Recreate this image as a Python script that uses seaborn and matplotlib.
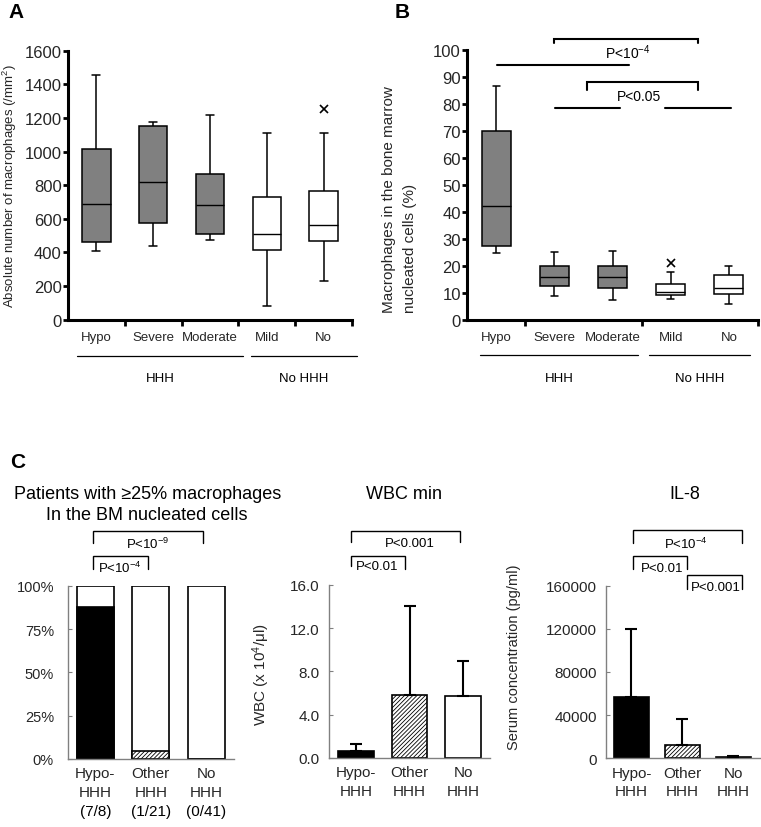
import numpy as np
import pandas as pd
import matplotlib
matplotlib.use("Agg")
import matplotlib.pyplot as plt
import matplotlib.transforms as mtransforms
from matplotlib.ticker import PercentFormatter, FormatStrFormatter
import seaborn as sns

# ---------------- data ----------------
severity = ["Hypo", "Severe", "Moderate", "Mild", "No"]
box_fill = ["#808080", "#808080", "#808080", "white", "white"]
group_names = ["HHH", "No HHH"]

# Panel A: absolute number of macrophages (/mm2) -- whisker low, Q1, median, Q3, whisker high
a_low = [407, 437, 473, 80, 232]
a_q1 = [465, 578, 511, 415, 469]
a_med = [691, 821, 680, 511, 564]
a_q3 = [1013, 1151, 864, 727, 765]
a_high = [1455, 1177, 1216, 1109, 1109]
a_out_cat = ["No"]
a_out_val = [1255]

# Panel B: macrophages in BM nucleated cells (%)
b_low = [24.7, 8.6, 7.3, 7.7, 6.0]
b_q1 = [27.2, 12.6, 11.6, 9.1, 9.5]
b_med = [42.2, 15.7, 16.0, 10.4, 11.9]
b_q3 = [70.0, 20.0, 19.8, 13.2, 16.5]
b_high = [86.4, 24.9, 25.3, 17.5, 20.0]
b_out_cat = ["Mild"]
b_out_val = [20.9]

# Panel C
groups = ["Hypo-\nHHH", "Other\nHHH", "No\nHHH"]
bar_colors = ["black", "white", "white"]
n_pos = [7, 1, 0]
n_total = [8, 21, 41]
total_pct = [100.0, 100.0, 100.0]
wbc_mean = [0.65, 5.78, 5.72]
wbc_sd = [0.67, 8.25, 3.26]
il8_mean = [57000, 12300, 900]
il8_sd = [63000, 23700, 900]

# ---------------- style ----------------
sns.set_style("ticks")
plt.rcParams["font.family"] = ["Liberation Sans", "DejaVu Sans"]
plt.rcParams["mathtext.fontset"] = "custom"
plt.rcParams["mathtext.rm"] = "Liberation Sans"
plt.rcParams["mathtext.it"] = "Liberation Sans:italic"
plt.rcParams["mathtext.bf"] = "Liberation Sans:bold"
plt.rcParams["mathtext.default"] = "regular"
plt.rcParams["hatch.linewidth"] = 0.6
plt.rcParams["text.color"] = "black"

W, H = 761, 828
fig = plt.figure(figsize=(W / 100, H / 100), dpi=100)
fig.patch.set_facecolor("white")


def add_ax(l, t, r, b):
    return fig.add_axes([l / W, 1 - b / H, (r - l) / W, (b - t) / H])


def box_panel(ax, stats, ylim, yticks, capw, minor_ticks, out_cat, out_val):
    low, q1, med, q3, high = stats
    df = pd.DataFrame({
        "cat": np.repeat(severity, 5),
        "val": np.column_stack([low, q1, med, q3, high]).ravel(),
    })
    sns.boxplot(data=df, x="cat", y="val", hue="cat", order=severity, hue_order=severity,
                palette=dict(zip(severity, box_fill)), saturation=1, legend=False,
                dodge=False, width=0.5, whis=(0, 100), linecolor="black", linewidth=1.1,
                fliersize=0, capwidths=capw,
                medianprops={"linewidth": 1.0, "color": "black"}, ax=ax)
    ax.plot([severity.index(c) for c in out_cat], out_val, ls="none", marker="x",
            color="black", ms=6, mew=1.2)
    ax.set_xlim(-0.5, 4.5)
    ax.set_ylim(*ylim)
    ax.set_yticks(yticks)
    ax.set_xlabel("")
    ax.set_xticks(range(5))
    ax.set_xticklabels(severity, fontsize=9.5)
    ax.set_xticks(minor_ticks, minor=True)
    ax.tick_params(axis="x", which="major", length=0, pad=8)
    ax.tick_params(axis="x", which="minor", length=4, width=2, direction="out",
                   color="black", bottom=True)
    ax.tick_params(axis="y", length=3.5, width=2, pad=1, labelsize=12,
                   direction="out", color="black", left=True)
    for s in ("top", "right"):
        ax.spines[s].set_visible(False)
    for s in ("left", "bottom"):
        ax.spines[s].set_linewidth(2.2)
        ax.spines[s].set_color("black")


def groups_under(ax, spans, centers, yline, ytext):
    tr = mtransforms.blended_transform_factory(ax.transData, ax.transAxes)
    for (x0, x1), xc, nm in zip(spans, centers, group_names):
        ax.plot([x0, x1], [yline, yline], transform=tr, color="black", lw=0.9, clip_on=False)
        ax.text(xc, ytext, nm, transform=tr, ha="center", va="center", fontsize=9.5)


def bracket(ax, x0, x1, ytop, yl, yr, label, tx, ty, fs, lw=1.0):
    ax.plot([x0, x0, x1, x1], [yl, ytop, ytop, yr], color="black", lw=lw,
            clip_on=False, solid_joinstyle="miter")
    ax.text(tx, ty, label, ha="center", va="center", fontsize=fs)


def style_c(ax, ylim, yticks, xlim, pad):
    ax.set_xlim(*xlim)
    ax.set_ylim(*ylim)
    ax.set_yticks(yticks)
    ax.set_xlabel("")
    ax.tick_params(axis="y", direction="in", length=3, width=0.8, color="#808080",
                   pad=pad, labelsize=11, left=True)
    ax.tick_params(axis="x", length=0, pad=5.4, labelsize=11)
    for lbl in ax.get_xticklabels():
        lbl.set_linespacing(1.4)
    for s in ("top", "right"):
        ax.spines[s].set_visible(False)
    for s in ("left", "bottom"):
        ax.spines[s].set_linewidth(1.0)
        ax.spines[s].set_color("#808080")


def hatch_other(ax, patches):
    for p in patches:
        if abs(p.get_x() + p.get_width() / 2 - 1) < 0.05:
            p.set_hatch("////////")


# ---------------- Panel A ----------------
ax_a = add_ax(68, 51.7, 352, 320.7)
box_panel(ax_a, (a_low, a_q1, a_med, a_q3, a_high), (0, 1600), range(0, 1601, 200),
          0.14, [0.5, 1.5, 2.5, 3.5, 4.5], a_out_cat, a_out_val)
ax_a.set_ylabel("Absolute number of macrophages (/mm$^{2}$)", fontsize=9.5)
ax_a.yaxis.set_label_coords(-0.172, 0.5)
groups_under(ax_a, [(-0.34, 2.58), (2.72, 4.59)], [1.12, 3.655], -0.135, -0.217)

# ---------------- Panel B ----------------
ax_b = add_ax(467, 50.7, 758, 320.7)
box_panel(ax_b, (b_low, b_q1, b_med, b_q3, b_high), (0, 100), range(0, 101, 10),
          0.12, [0.5, 2.5, 4.5], b_out_cat, b_out_val)
ax_b.set_ylabel("Macrophages in the bone marrow\nnucleated cells (%)", fontsize=11,
                multialignment="left", linespacing=1.6)
ax_b.yaxis.set_label_coords(-0.172, 0.447)
groups_under(ax_b, [(-0.27, 2.44), (2.63, 4.36)], [1.085, 3.5], -0.131, -0.216)
bracket(ax_b, 0.995, 3.47, 103.96, 102.4, 102.4, r"P<10$^{-4}$", 2.27, 99.4, 10, lw=1.5)
bracket(ax_b, 1.567, 3.47, 88.1, 85.1, 85.1, "P<0.05", 2.46, 82.7, 10, lw=1.5)
ax_b.plot([0.02, 2.29], [94.4, 94.4], color="black", lw=1.5, clip_on=False)
ax_b.plot([1.007, 2.13], [78.3, 78.3], color="black", lw=1.5, clip_on=False)
ax_b.plot([2.91, 4.03], [78.3, 78.3], color="black", lw=1.5, clip_on=False)

# ---------------- Panel C1 ----------------
ax_c1 = add_ax(67.7, 586.7, 234, 760)
sns.barplot(x=groups, y=total_pct, color="white", edgecolor="black", linewidth=1.2,
            width=0.67, errorbar=None, saturation=1, ax=ax_c1)
n_bg = len(ax_c1.patches)
pct = [100.0 * p / t for p, t in zip(n_pos, n_total)]
sns.barplot(x=groups, y=pct, hue=groups, palette=bar_colors, edgecolor="black",
            linewidth=1.2, width=0.67, errorbar=None, saturation=1, legend=False, ax=ax_c1)
hatch_other(ax_c1, ax_c1.patches[n_bg:])
style_c(ax_c1, (0, 100), [0, 25, 50, 75, 100], (-0.5, 2.5), 9.9)
ax_c1.yaxis.set_major_formatter(PercentFormatter(xmax=100, decimals=0))
ax_c1.tick_params(axis="y", labelsize=10.5)
tr1 = mtransforms.blended_transform_factory(ax_c1.transData, ax_c1.transAxes)
for i, (p, t) in enumerate(zip(n_pos, n_total)):
    ax_c1.text(i, -0.30, f"({p}/{t})", transform=tr1, ha="center", va="center", fontsize=11)
bracket(ax_c1, -0.045, 1.944, 131.4, 124.6, 124.6, r"P<10$^{-9}$", 0.95, 124.6, 9.5)
bracket(ax_c1, -0.045, 0.94, 117.0, 109.6, 109.6, r"P<10$^{-4}$", 0.45, 110.8, 9.5)

# ---------------- Panel C2 ----------------
ax_c2 = add_ax(329, 585.7, 490, 759)
sns.barplot(x=groups, y=wbc_mean, hue=groups, palette=bar_colors, edgecolor="black",
            linewidth=1.2, width=0.67, errorbar=None, saturation=1, legend=False, ax=ax_c2)
hatch_other(ax_c2, ax_c2.patches)
ax_c2.errorbar(range(len(groups)), wbc_mean, yerr=[np.zeros(len(groups)), wbc_sd],
               fmt="none", ecolor="black", elinewidth=1.5, capsize=4, capthick=1.5, zorder=5)
style_c(ax_c2, (0, 16), [0, 4, 8, 12, 16], (-0.5, 2.5), 6.5)
ax_c2.yaxis.set_major_formatter(FormatStrFormatter("%.1f"))
ax_c2.set_ylabel("WBC (x 10$^{4}$/μl)", fontsize=11)
ax_c2.yaxis.set_label_coords(-0.354, 0.485)
bracket(ax_c2, -0.099, 1.937, 20.93, 19.94, 19.94, "P<0.001", 1.0, 19.85, 9.5)
bracket(ax_c2, -0.099, 0.912, 18.62, 17.76, 17.45, "P<0.01", 0.40, 17.76, 9.5)

# ---------------- Panel C3 ----------------
ax_c3 = add_ax(606, 586.7, 761, 759.3)
sns.barplot(x=groups, y=il8_mean, hue=groups, palette=bar_colors, edgecolor="black",
            linewidth=1.2, width=0.67, errorbar=None, saturation=1, legend=False, ax=ax_c3)
hatch_other(ax_c3, ax_c3.patches)
ax_c3.errorbar(range(len(groups)), il8_mean, yerr=[np.zeros(len(groups)), il8_sd],
               fmt="none", ecolor="black", elinewidth=1.5, capsize=4, capthick=1.5, zorder=5)
style_c(ax_c3, (0, 160000), [0, 40000, 80000, 120000, 160000], (-0.5, 2.54), 6.3)
ax_c3.yaxis.set_major_formatter(FormatStrFormatter("%d"))
ax_c3.set_ylabel("Serum concentration (pg/ml)", fontsize=10.5)
ax_c3.yaxis.set_label_coords(-0.549, 0.593)
bracket(ax_c3, 0.026, 2.167, 211600, 199600, 199600, r"P<10$^{-4}$", 1.075, 199600, 9.5)
bracket(ax_c3, 0.026, 1.094, 187250, 175500, 175500, "P<0.01", 0.60, 176400, 9.5)
bracket(ax_c3, 1.094, 2.167, 169900, 157000, 157000, "P<0.001", 1.646, 158800, 9.5)

# ---------------- titles and panel letters ----------------
fig.text(148 / W, 1 - 495 / H, "Patients with ≥25% macrophages", ha="center", va="center", fontsize=13)
fig.text(147 / W, 1 - 515 / H, "In the BM nucleated cells", ha="center", va="center", fontsize=13)
fig.text(404 / W, 1 - 495 / H, "WBC min", ha="center", va="center", fontsize=13)
fig.text(685 / W, 1 - 495 / H, "IL-8", ha="center", va="center", fontsize=13)
fig.text(16 / W, 1 - 13 / H, "A", ha="center", va="center", fontsize=15, fontweight="bold")
fig.text(402 / W, 1 - 13 / H, "B", ha="center", va="center", fontsize=15, fontweight="bold")
fig.text(18 / W, 1 - 463 / H, "C", ha="center", va="center", fontsize=15, fontweight="bold")

fig.savefig("out.png", dpi=100, facecolor="white")
